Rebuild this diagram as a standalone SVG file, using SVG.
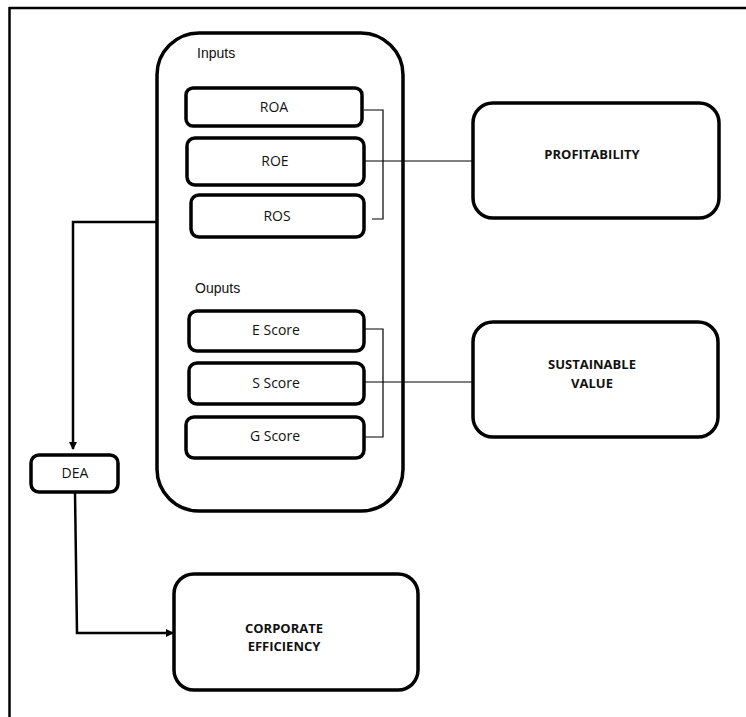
<svg xmlns="http://www.w3.org/2000/svg" width="746" height="717" viewBox="0 0 746 717">
<defs>
<style>
.box{fill:#fff;stroke:#000;stroke-width:3.5}
.big{fill:#fff;stroke:#000;stroke-width:3.5}
.thin{fill:none;stroke:#000;stroke-width:1.2}
.arr{fill:none;stroke:#000;stroke-width:2.5}
.t{font-family:"Open Sans","Liberation Sans",sans-serif;font-size:14px;fill:#111;text-anchor:middle}
.b{font-family:"Open Sans","Liberation Sans",sans-serif;font-size:13px;font-weight:bold;fill:#111;text-anchor:middle}
.lbl{font-family:"Liberation Sans",Arial,sans-serif;font-size:14px;fill:#111}
</style>
<marker id="ah" markerWidth="8" markerHeight="8" refX="7" refY="4" orient="auto" markerUnits="userSpaceOnUse">
<path d="M0,0 L8,4 L0,8 Z" fill="#000"/>
</marker>
</defs>
<rect width="746" height="717" fill="#fff"/>
<g id="frame">
<line x1="9" y1="8" x2="746" y2="8" stroke="#000" stroke-width="2.5"/>
<line x1="9.5" y1="7" x2="9.5" y2="717" stroke="#000" stroke-width="2.5"/>
</g>
<g id="container">
<rect class="big" x="157" y="33" width="246" height="478" rx="42"/>
<text class="lbl" x="197" y="58">Inputs</text>
<text class="lbl" x="195" y="293">Ouputs</text>
</g>
<g id="connectors">
<path class="thin" d="M364,110 H383 V219 H372"/>
<path class="thin" d="M364,161 H473"/>
<path class="thin" d="M364,329 H383 V437 H364"/>
<path class="thin" d="M364,382 H473"/>
<path class="arr" d="M157,222 H73 V449" marker-end="url(#ah)"/>
<path class="arr" d="M75,492 L77,633 H173" marker-end="url(#ah)"/>
</g>
<g id="roa"><rect class="box" x="186" y="88" width="176" height="38" rx="7"/><text class="t" x="274" y="112">ROA</text></g>
<g id="roe"><rect class="box" x="187" y="138" width="177" height="47" rx="8"/><text class="t" x="275" y="166">ROE</text></g>
<g id="ros"><rect class="box" x="191" y="195" width="173" height="42" rx="8"/><text class="t" x="277" y="221">ROS</text></g>
<g id="escore"><rect class="box" x="189" y="311" width="175" height="40" rx="8"/><text class="t" x="276" y="335">E Score</text></g>
<g id="sscore"><rect class="box" x="189" y="363" width="175" height="41" rx="8"/><text class="t" x="276" y="388">S Score</text></g>
<g id="gscore"><rect class="box" x="186" y="417" width="178" height="41" rx="8"/><text class="t" x="275" y="441">G Score</text></g>
<g id="profitability"><rect class="box" x="473" y="103" width="246" height="115" rx="20"/><text class="b" x="592" y="159">PROFITABILITY</text></g>
<g id="sustainable"><rect class="box" x="473" y="322" width="245" height="115" rx="20"/><text class="b" x="592" y="369">SUSTAINABLE</text><text class="b" x="592" y="388">VALUE</text></g>
<g id="dea"><rect class="box" x="31" y="455" width="87" height="37" rx="8"/><text class="t" x="75" y="478">DEA</text></g>
<g id="corporate"><rect class="box" x="174" y="574" width="244" height="116" rx="20"/><text class="b" x="284" y="633">CORPORATE</text><text class="b" x="284" y="651">EFFICIENCY</text></g>
</svg>
